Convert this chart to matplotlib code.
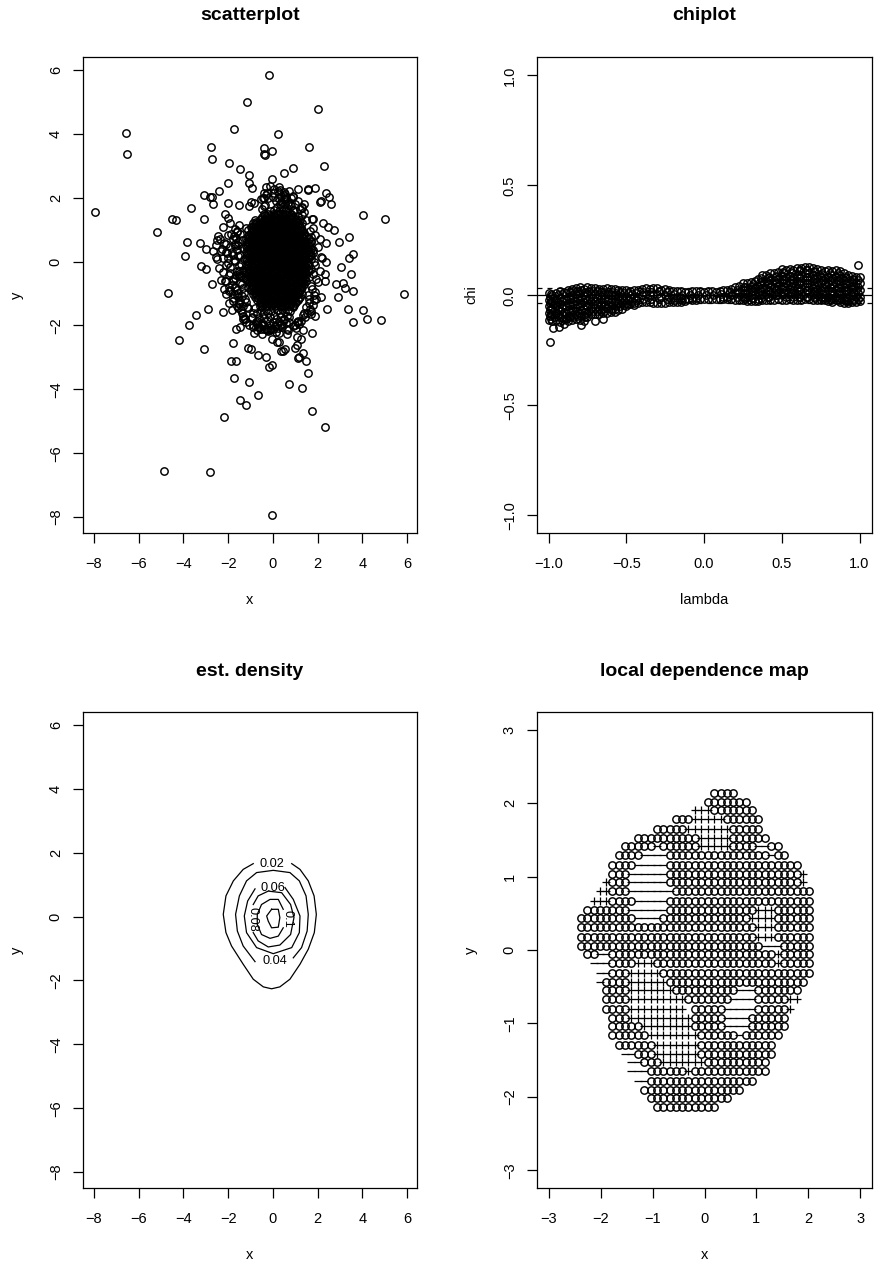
import matplotlib
matplotlib.use('Agg')
import matplotlib.pyplot as plt

plt.rcParams['font.family'] = ['Liberation Sans', 'DejaVu Sans']

# scatterplot: isolated points read one by one
out_x = [-0.17,-1.15,2.02,-6.59,-6.54,-1.75,0.21,-2.79,-2.71,-0.39,-0.05,-0.35,-0.39,1.61,2.29,-1.97,-1.45,0.91,0.50,-1.09,
         -1.06,-0.94,-0.02,-2.03,-2.43,-3.10,-2.80,-2.74,-2.67,-2.03,-1.51,-1.00,-3.64,-7.94,-4.49,-4.34,-3.09,-5.17,4.01,5.03,
         1.13,1.55,1.58,1.88,2.38,2.49,2.16,2.10,2.61,-0.33,-0.14,0.27,-0.40,-0.39,-0.36,0.03,0.27,0.56,0.91,1.38,
         1.32,1.80,1.73,2.26,2.47,2.72,2.96,3.38,2.35,3.57,3.38,3.04,3.48,2.35,2.16,2.31,-3.82,-3.27,-3.00,-3.95,
         -3.22,-2.97,-2.25,-2.45,-2.52,-2.55,-2.70,-2.55,-2.51,-2.13,-2.00,-4.67,5.88,-2.74,-2.30,-2.19,-2.91,-3.46,-3.74,-4.19,
         -3.09,-2.21,-1.95,-1.82,-1.64,-1.45,-1.78,-1.11,-0.96,-0.67,-0.32,-1.86,-1.67,-0.06,-0.17,-1.72,-1.07,0.71,1.29,-0.66,
         -1.46,-1.22,-2.18,1.73,2.32,-4.86,-2.80,-0.05,2.32,2.80,3.13,3.22,3.60,2.92,2.16,1.92,1.85,2.43,3.35,4.04,
         4.19,3.59,4.81,1.68,1.89,1.73,1.35,1.13,1.10,0.73,1.03,0.68,0.64,1.26,1.06,1.09,1.00,1.33,1.13,1.17,
         1.46,1.58,0.36,0.43,0.52,-0.06,0.16,0.27,0.28,-0.21,-0.49,-0.85,-1.07,-1.36,-1.55]
out_y = [5.86,5.01,4.79,4.02,3.36,4.15,3.99,3.58,3.20,3.55,3.46,3.35,3.36,3.58,3.01,3.10,2.90,2.94,2.77,2.70,
         2.47,2.30,2.59,2.46,2.20,2.10,2.01,2.03,1.81,1.85,1.77,1.86,1.68,1.54,1.33,1.29,1.34,0.94,1.46,1.35,
         2.28,2.25,2.27,2.31,2.14,2.03,1.91,1.87,1.81,2.33,2.38,2.33,2.14,1.98,1.77,2.14,2.14,2.11,2.03,1.82,
         1.67,1.33,1.32,1.20,1.07,0.98,0.62,0.76,0.59,0.23,0.11,-0.18,-0.39,-0.01,0.15,-0.39,0.61,0.58,0.40,0.19,
         -0.14,-0.23,1.07,0.80,0.67,0.51,0.32,0.15,0.07,1.49,1.37,-0.97,-1.00,-0.70,-0.56,-0.86,-1.47,-1.68,-1.98,-2.45,
         -2.74,-1.57,-1.31,-1.50,-2.11,-2.05,-2.55,-2.70,-2.75,-2.93,-2.99,-3.10,-3.11,-3.24,-3.29,-3.65,-3.76,-3.82,-3.96,-4.19,
         -4.34,-4.50,-4.87,-4.67,-5.18,-6.55,-6.59,-7.95,-0.62,-0.70,-0.66,-0.84,-0.93,-1.11,-1.10,-1.17,-1.05,-1.47,-1.47,-1.51,
         -1.80,-1.88,-1.82,-1.64,-1.71,-2.22,-2.15,-1.86,-1.88,-1.88,-2.09,-2.14,-2.28,-2.43,-2.37,-2.60,-2.70,-2.85,-3.01,-3.00,
         -3.10,-3.48,-2.80,-2.80,-2.75,-2.43,-2.51,-2.51,-2.22,-2.17,-2.27,-2.23,-1.99,-1.79,-1.46]

# ragged fringe round the solid centre
fringe_x = [-1.9,-1.7,-1.5,-2.0,-1.8,-1.6,-1.9,-1.7,-2.1,-1.8,-1.6,-2.0,-1.7,-1.5,-1.9,-1.6,-2.1,-1.8,-1.5,-1.9,
            -1.7,-1.4,-1.8,-1.6,-1.3,-1.5,-1.2,-1.4,-1.1,-1.3,-0.9,-1.2,-0.7,-0.9,-0.5,-0.7,-0.3,-0.6,-0.2,-0.4,
            1.8,1.9,2.1,1.7,2.0,1.8,2.2,1.7,1.9,2.1,1.8,2.0,1.7,1.9,1.6,1.8,1.5,1.7,1.4,1.6,
            1.3,1.5,1.2,1.4,1.0,1.3,0.8,1.1,0.7,0.9,0.9,0.6,0.5,0.7,0.2,0.4,-0.1,0.1,-0.3,-0.5,
            -1.62,-1.75,-1.55,-1.68,-1.85,-1.58,-1.72,-1.92,-1.52,-1.66,-1.80,-1.95,-1.60,-1.74,-1.56,-1.48,-1.62,-1.42,-1.35,-1.25,
            1.66,1.72,1.60,1.78,1.65,1.85,1.70,1.62,1.92,1.74,1.58,1.82,1.64,1.52,1.44,1.36,1.26,1.18,1.08,0.98,
            -1.05,-0.85,-0.55,-0.25,0.05,0.30,0.55,0.78,-0.92,-0.62,-0.38,-0.12,0.12,0.38,0.62,0.88,-0.72,-0.45,0.22,0.48,
            -2.35,-2.18,-2.28,-2.05,-2.22,-1.88,-2.10,-1.98,-2.40,-2.15,-1.82,-2.30,-2.08,-1.70,-2.25,-1.95,-2.12,-1.78,-2.02,-1.65,
            -1.45,-1.38,-1.55,-1.32,-1.48,-1.30,-1.42,-1.35,-1.50,-1.28,-1.46,-1.33,-1.58,-1.40,-1.25,-1.52,-1.36,-1.18,-1.44,-1.22]
fringe_y = [1.20,1.02,1.15,0.85,0.70,0.92,0.45,0.55,0.30,0.20,0.38,-0.05,0.02,-0.15,-0.35,-0.28,-0.60,-0.55,-0.45,-0.90,
            -0.78,-0.70,-1.15,-1.05,-0.98,-1.32,-1.25,-1.60,-1.45,-1.75,-1.62,-1.90,-1.85,-2.05,-2.00,-2.15,-2.10,-1.38,1.98,1.75,
            1.05,0.85,0.70,0.65,0.45,0.28,0.10,0.08,-0.10,-0.30,-0.40,-0.65,-0.75,-0.95,-1.18,-1.35,-1.42,-1.55,-1.60,-1.30,
            1.45,1.30,1.65,1.55,1.80,1.70,2.00,1.90,2.20,2.05,1.60,1.95,-1.80,-1.72,-1.95,-2.05,-2.12,-2.02,2.08,1.65,
            0.95,0.80,0.62,0.48,0.30,0.18,0.05,-0.18,-0.30,-0.42,-0.62,-0.80,-0.88,-1.00,-1.12,-1.22,-1.40,-1.52,-1.70,-1.80,
            0.95,0.78,0.58,0.38,0.22,-0.02,-0.22,-0.48,-0.55,-0.85,-1.05,-1.20,-1.48,-1.62,-1.72,-1.68,-1.85,-1.95,-1.90,-2.00,
            1.75,1.85,1.95,2.15,2.28,2.25,2.05,1.80,-1.75,-2.05,-2.10,-2.15,-2.20,-2.00,-2.10,-2.02,-1.95,2.00,2.22,2.18,
            0.72,0.58,0.40,0.28,0.12,0.88,-0.12,-0.42,-0.20,-0.62,-0.72,0.32,0.55,-0.50,-0.32,-0.92,-1.02,-1.22,0.10,0.75,
            0.88,0.68,0.52,0.42,0.22,0.08,-0.08,-0.25,-0.38,-0.52,-0.68,-0.82,-0.98,-1.08,-1.18,-1.28,-1.38,-1.42,-0.45,1.05]

# solid centre, one row per y
core_rows = [
    (1.5, [-0.4,-0.2,0.0,0.2,0.4,0.6,0.8]),
    (1.4, [-0.5,-0.3,-0.1,0.1,0.3,0.5,0.7,0.9,1.1]),
    (1.3, [-0.8,-0.6,-0.4,-0.2,0.0,0.2,0.4,0.6,0.8,1.0,1.2]),
    (1.2, [-0.9,-0.7,-0.5,-0.3,-0.1,0.1,0.3,0.5,0.7,0.9,1.1,1.3]),
    (1.1, [-1.0,-0.8,-0.6,-0.4,-0.2,0.0,0.2,0.4,0.6,0.8,1.0,1.2]),
    (1.0, [-1.1,-0.9,-0.7,-0.5,-0.3,-0.1,0.1,0.3,0.5,0.7,0.9,1.1,1.3]),
    (0.9, [-1.0,-0.8,-0.6,-0.4,-0.2,0.0,0.2,0.4,0.6,0.8,1.0,1.2,1.4]),
    (0.8, [-1.1,-0.9,-0.7,-0.5,-0.3,-0.1,0.1,0.3,0.5,0.7,0.9,1.1,1.3,1.5]),
    (0.7, [-1.2,-1.0,-0.8,-0.6,-0.4,-0.2,0.0,0.2,0.4,0.6,0.8,1.0,1.2,1.4,1.6]),
    (0.6, [-1.1,-0.9,-0.7,-0.5,-0.3,-0.1,0.1,0.3,0.5,0.7,0.9,1.1,1.3,1.5,1.7]),
    (0.5, [-1.2,-1.0,-0.8,-0.6,-0.4,-0.2,0.0,0.2,0.4,0.6,0.8,1.0,1.2,1.4,1.6]),
    (0.4, [-1.1,-0.9,-0.7,-0.5,-0.3,-0.1,0.1,0.3,0.5,0.7,0.9,1.1,1.3,1.5,1.7]),
    (0.3, [-1.2,-1.0,-0.8,-0.6,-0.4,-0.2,0.0,0.2,0.4,0.6,0.8,1.0,1.2,1.4,1.6]),
    (0.2, [-1.1,-0.9,-0.7,-0.5,-0.3,-0.1,0.1,0.3,0.5,0.7,0.9,1.1,1.3,1.5,1.7]),
    (0.1, [-1.2,-1.0,-0.8,-0.6,-0.4,-0.2,0.0,0.2,0.4,0.6,0.8,1.0,1.2,1.4,1.6]),
    (0.0, [-1.1,-0.9,-0.7,-0.5,-0.3,-0.1,0.1,0.3,0.5,0.7,0.9,1.1,1.3,1.5]),
    (-0.1, [-1.2,-1.0,-0.8,-0.6,-0.4,-0.2,0.0,0.2,0.4,0.6,0.8,1.0,1.2,1.4,1.6]),
    (-0.2, [-1.1,-0.9,-0.7,-0.5,-0.3,-0.1,0.1,0.3,0.5,0.7,0.9,1.1,1.3,1.5]),
    (-0.3, [-1.2,-1.0,-0.8,-0.6,-0.4,-0.2,0.0,0.2,0.4,0.6,0.8,1.0,1.2,1.4,1.6]),
    (-0.4, [-1.1,-0.9,-0.7,-0.5,-0.3,-0.1,0.1,0.3,0.5,0.7,0.9,1.1,1.3,1.5]),
    (-0.5, [-1.2,-1.0,-0.8,-0.6,-0.4,-0.2,0.0,0.2,0.4,0.6,0.8,1.0,1.2,1.4]),
    (-0.6, [-1.1,-0.9,-0.7,-0.5,-0.3,-0.1,0.1,0.3,0.5,0.7,0.9,1.1,1.3,1.5]),
    (-0.7, [-1.0,-0.8,-0.6,-0.4,-0.2,0.0,0.2,0.4,0.6,0.8,1.0,1.2,1.4]),
    (-0.8, [-1.1,-0.9,-0.7,-0.5,-0.3,-0.1,0.1,0.3,0.5,0.7,0.9,1.1,1.3]),
    (-0.9, [-1.0,-0.8,-0.6,-0.4,-0.2,0.0,0.2,0.4,0.6,0.8,1.0,1.2]),
    (-1.0, [-0.9,-0.7,-0.5,-0.3,-0.1,0.1,0.3,0.5,0.7,0.9,1.1,1.3]),
    (-1.1, [-0.8,-0.6,-0.4,-0.2,0.0,0.2,0.4,0.6,0.8,1.0,1.2]),
    (-1.2, [-0.7,-0.5,-0.3,-0.1,0.1,0.3,0.5,0.7,0.9,1.1]),
    (-1.3, [-0.6,-0.4,-0.2,0.0,0.2,0.4,0.6,0.8,1.0]),
    (-1.4, [-0.5,-0.3,-0.1,0.1,0.3,0.5,0.7,0.9]),
    # second pass between the rows above
    (1.45, [-0.35,-0.15,0.05,0.25,0.45,0.65,0.85]),
    (1.35, [-0.55,-0.35,-0.15,0.05,0.25,0.45,0.65,0.85,1.05]),
    (1.25, [-0.75,-0.55,-0.35,-0.15,0.05,0.25,0.45,0.65,0.85,1.05]),
    (1.15, [-0.85,-0.65,-0.45,-0.25,-0.05,0.15,0.35,0.55,0.75,0.95,1.15]),
    (1.05, [-0.95,-0.75,-0.55,-0.35,-0.15,0.05,0.25,0.45,0.65,0.85,1.05,1.25]),
    (0.95, [-0.95,-0.75,-0.55,-0.35,-0.15,0.05,0.25,0.45,0.65,0.85,1.05,1.25]),
    (0.85, [-1.05,-0.85,-0.65,-0.45,-0.25,-0.05,0.15,0.35,0.55,0.75,0.95,1.15,1.35]),
    (0.75, [-1.05,-0.85,-0.65,-0.45,-0.25,-0.05,0.15,0.35,0.55,0.75,0.95,1.15,1.35]),
    (0.65, [-1.15,-0.95,-0.75,-0.55,-0.35,-0.15,0.05,0.25,0.45,0.65,0.85,1.05,1.25,1.45]),
    (0.55, [-1.15,-0.95,-0.75,-0.55,-0.35,-0.15,0.05,0.25,0.45,0.65,0.85,1.05,1.25,1.45]),
    (0.45, [-1.15,-0.95,-0.75,-0.55,-0.35,-0.15,0.05,0.25,0.45,0.65,0.85,1.05,1.25,1.45,1.65]),
    (0.35, [-1.05,-0.85,-0.65,-0.45,-0.25,-0.05,0.15,0.35,0.55,0.75,0.95,1.15,1.35,1.55]),
    (0.25, [-1.15,-0.95,-0.75,-0.55,-0.35,-0.15,0.05,0.25,0.45,0.65,0.85,1.05,1.25,1.45,1.65]),
    (0.15, [-1.05,-0.85,-0.65,-0.45,-0.25,-0.05,0.15,0.35,0.55,0.75,0.95,1.15,1.35,1.55]),
    (0.05, [-1.15,-0.95,-0.75,-0.55,-0.35,-0.15,0.05,0.25,0.45,0.65,0.85,1.05,1.25,1.45]),
    (-0.05, [-1.05,-0.85,-0.65,-0.45,-0.25,-0.05,0.15,0.35,0.55,0.75,0.95,1.15,1.35,1.55]),
    (-0.15, [-1.15,-0.95,-0.75,-0.55,-0.35,-0.15,0.05,0.25,0.45,0.65,0.85,1.05,1.25,1.45]),
    (-0.25, [-1.05,-0.85,-0.65,-0.45,-0.25,-0.05,0.15,0.35,0.55,0.75,0.95,1.15,1.35,1.55]),
    (-0.35, [-1.15,-0.95,-0.75,-0.55,-0.35,-0.15,0.05,0.25,0.45,0.65,0.85,1.05,1.25,1.45]),
    (-0.45, [-1.05,-0.85,-0.65,-0.45,-0.25,-0.05,0.15,0.35,0.55,0.75,0.95,1.15,1.35]),
    (-0.55, [-1.15,-0.95,-0.75,-0.55,-0.35,-0.15,0.05,0.25,0.45,0.65,0.85,1.05,1.25,1.45]),
    (-0.65, [-1.05,-0.85,-0.65,-0.45,-0.25,-0.05,0.15,0.35,0.55,0.75,0.95,1.15,1.35]),
    (-0.75, [-0.95,-0.75,-0.55,-0.35,-0.15,0.05,0.25,0.45,0.65,0.85,1.05,1.25]),
    (-0.85, [-0.95,-0.75,-0.55,-0.35,-0.15,0.05,0.25,0.45,0.65,0.85,1.05,1.25]),
    (-0.95, [-0.85,-0.65,-0.45,-0.25,-0.05,0.15,0.35,0.55,0.75,0.95,1.15]),
    (-1.05, [-0.75,-0.55,-0.35,-0.15,0.05,0.25,0.45,0.65,0.85,1.05]),
    (-1.15, [-0.65,-0.45,-0.25,-0.05,0.15,0.35,0.55,0.75,0.95,1.15]),
    (-1.25, [-0.55,-0.35,-0.15,0.05,0.25,0.45,0.65,0.85,1.05]),
    (-1.35, [-0.45,-0.25,-0.05,0.15,0.35,0.55,0.75,0.95]),
]

# thinner part above and below the solid centre
tail_x = [0.05,0.28,0.52,0.72,0.18,0.42,0.62,0.92,-0.12,0.30,0.55,0.80,0.12,0.38,0.66,0.22,0.48,0.02,0.34,0.58,
          -0.82,-0.55,-0.30,-0.08,0.18,0.42,0.68,0.90,-0.72,-0.45,-0.20,0.05,0.30,0.55,0.78,-0.92,-0.62,-0.38,-0.12,0.12,
          0.38,0.62,-0.75,-0.50,-0.25,0.00,0.25,0.48,-0.88,-0.65,-0.40,-0.15,0.10,0.35,0.60,-0.55,-0.28,0.02,0.22]
tail_y = [1.62,1.58,1.60,1.55,1.72,1.70,1.68,1.62,1.58,1.82,1.80,1.74,1.90,1.88,1.85,1.98,1.95,2.02,2.05,1.98,
          -1.45,-1.52,-1.50,-1.55,-1.52,-1.48,-1.50,-1.42,-1.62,-1.65,-1.60,-1.68,-1.62,-1.58,-1.55,-1.72,-1.75,-1.78,-1.72,-1.80,
          -1.74,-1.70,-1.88,-1.92,-1.85,-1.90,-1.88,-1.82,-1.98,-2.02,-2.00,-1.98,-2.02,-1.95,-1.92,-2.12,-2.15,-2.10,-2.08]

# chiplot band, (lambda, chi values)
chi_cols = [
    (-1.000,[0.010,-0.020,-0.050,-0.080,-0.110]), (-0.975,[0.000,-0.030,-0.060,-0.090,-0.115]),
    (-0.950,[0.010,-0.020,-0.050,-0.080,-0.110]), (-0.925,[0.020,-0.010,-0.040,-0.070,-0.100,-0.120]),
    (-0.900,[0.015,-0.015,-0.045,-0.075,-0.105]), (-0.875,[0.025,-0.005,-0.035,-0.065,-0.095,-0.115]),
    (-0.850,[0.030,0.000,-0.030,-0.060,-0.090,-0.110]), (-0.825,[0.035,0.005,-0.025,-0.055,-0.085,-0.105]),
    (-0.800,[0.040,0.010,-0.020,-0.050,-0.080,-0.110]), (-0.775,[0.030,0.000,-0.030,-0.060,-0.090,-0.115]),
    (-0.750,[0.040,0.010,-0.020,-0.050,-0.080,-0.100]), (-0.725,[0.035,0.005,-0.025,-0.055,-0.085]),
    (-0.700,[0.035,0.005,-0.025,-0.055,-0.085]), (-0.675,[0.030,0.000,-0.030,-0.060,-0.085]),
    (-0.650,[0.030,0.000,-0.030,-0.060,-0.080]), (-0.625,[0.035,0.005,-0.025,-0.055,-0.080]),
    (-0.600,[0.030,0.000,-0.030,-0.060,-0.075]), (-0.575,[0.030,0.000,-0.030,-0.060,-0.075]),
    (-0.550,[0.025,-0.005,-0.035,-0.065]), (-0.525,[0.025,-0.005,-0.035,-0.060]),
    (-0.500,[0.025,-0.005,-0.035,-0.050]), (-0.475,[0.020,-0.010,-0.040]),
    (-0.450,[0.025,-0.005,-0.035,-0.045]), (-0.425,[0.025,-0.005,-0.035]),
    (-0.400,[0.030,0.000,-0.030]), (-0.375,[0.035,0.005,-0.030]),
    (-0.350,[0.030,0.000,-0.030]), (-0.325,[0.035,0.005,-0.035]),
    (-0.300,[0.035,0.005,-0.035]), (-0.275,[0.025,-0.005,-0.035]),
    (-0.250,[0.030,0.000,-0.035]), (-0.225,[0.025,-0.005,-0.030]),
    (-0.200,[0.020,-0.010,-0.030]), (-0.175,[0.020,-0.010,-0.030]),
    (-0.150,[0.020,-0.010,-0.030]), (-0.125,[0.015,-0.015,-0.025]),
    (-0.100,[0.015,-0.015]), (-0.075,[0.020,-0.010,-0.020]),
    (-0.050,[0.020,-0.010,-0.020]), (-0.025,[0.020,-0.015]),
    (0.000,[0.015,-0.015]), (0.025,[0.020,-0.015]),
    (0.050,[0.020,-0.015]), (0.075,[0.015,-0.015]),
    (0.100,[0.020,-0.015]), (0.125,[0.025,-0.005,-0.015]),
    (0.150,[0.025,-0.005,-0.015]), (0.175,[0.030,0.000,-0.015]),
    (0.200,[0.040,0.010,-0.020]), (0.225,[0.045,0.015,-0.020]),
    (0.250,[0.055,0.025,-0.005,-0.020]), (0.275,[0.055,0.025,-0.005,-0.025]),
    (0.300,[0.060,0.030,0.000,-0.025]), (0.325,[0.065,0.035,0.005,-0.025]),
    (0.350,[0.075,0.045,0.015,-0.015,-0.025]), (0.375,[0.095,0.065,0.035,0.005,-0.020]),
    (0.400,[0.095,0.065,0.035,0.005,-0.020]), (0.425,[0.100,0.070,0.040,0.010,-0.020]),
    (0.450,[0.100,0.070,0.040,0.010,-0.020]), (0.475,[0.105,0.075,0.045,0.015,-0.015]),
    (0.500,[0.120,0.090,0.060,0.030,0.000,-0.020]), (0.525,[0.115,0.085,0.055,0.025,-0.005,-0.020]),
    (0.550,[0.120,0.090,0.060,0.030,0.000,-0.015]), (0.575,[0.115,0.085,0.055,0.025,-0.005,-0.020]),
    (0.600,[0.125,0.095,0.065,0.035,0.005,-0.020]), (0.625,[0.125,0.095,0.065,0.035,0.005,-0.020]),
    (0.650,[0.130,0.100,0.070,0.040,0.010,-0.015]), (0.675,[0.130,0.100,0.070,0.040,0.010,-0.015]),
    (0.700,[0.125,0.095,0.065,0.035,0.005,-0.020]), (0.725,[0.120,0.090,0.060,0.030,0.000,-0.020]),
    (0.750,[0.115,0.085,0.055,0.025,-0.005,-0.020]), (0.775,[0.110,0.080,0.050,0.020,-0.010,-0.020]),
    (0.800,[0.115,0.085,0.055,0.025,-0.005,-0.025]), (0.825,[0.110,0.080,0.050,0.020,-0.010,-0.030]),
    (0.850,[0.115,0.085,0.055,0.025,-0.005,-0.020]), (0.875,[0.110,0.080,0.050,0.020,-0.010,-0.030]),
    (0.900,[0.100,0.070,0.040,0.010,-0.020,-0.035]), (0.925,[0.095,0.065,0.035,0.005,-0.025,-0.035]),
    (0.950,[0.090,0.060,0.030,0.000,-0.030]), (0.975,[0.085,0.055,0.025,-0.005,-0.030]),
    (1.000,[0.085,0.055,0.025,-0.005,-0.025]),
    # second pass between the columns above
    (-0.99,[-0.005,-0.035,-0.065,-0.095]), (-0.94,[0.000,-0.030,-0.060,-0.090]),
    (-0.89,[0.010,-0.020,-0.050,-0.080,-0.105]), (-0.84,[0.020,-0.010,-0.040,-0.070,-0.100]),
    (-0.79,[0.025,-0.005,-0.035,-0.065,-0.095]), (-0.74,[0.020,-0.010,-0.040,-0.070]),
    (-0.69,[0.020,-0.010,-0.040,-0.070]), (-0.64,[0.015,-0.015,-0.045,-0.070]),
    (-0.59,[0.015,-0.015,-0.045,-0.065]), (-0.54,[0.010,-0.020,-0.050]),
    (-0.49,[0.010,-0.020,-0.040]), (-0.44,[0.010,-0.020]),
    (-0.39,[0.015,-0.015]), (-0.34,[0.015,-0.015]),
    (-0.29,[0.020,-0.010]), (-0.24,[0.015,-0.015]),
    (-0.19,[0.005,-0.020]), (-0.14,[0.000,-0.020]),
    (-0.09,[0.000]), (-0.04,[0.000]),
    (0.01,[0.000]), (0.06,[0.000]),
    (0.11,[0.005]), (0.16,[0.010]),
    (0.21,[0.025,-0.005]), (0.26,[0.040,0.010,-0.010]),
    (0.31,[0.045,0.015,-0.010]), (0.36,[0.060,0.030,0.000]),
    (0.41,[0.080,0.050,0.020,-0.005]), (0.46,[0.085,0.055,0.025,0.000]),
    (0.51,[0.105,0.075,0.045,0.015]), (0.56,[0.105,0.075,0.045,0.015]),
    (0.61,[0.110,0.080,0.050,0.020,-0.005]), (0.66,[0.115,0.085,0.055,0.025,-0.005]),
    (0.71,[0.110,0.080,0.050,0.020,-0.005]), (0.76,[0.100,0.070,0.040,0.010]),
    (0.81,[0.100,0.070,0.040,0.010,-0.015]), (0.86,[0.100,0.070,0.040,0.010,-0.015]),
    (0.91,[0.085,0.055,0.025,-0.005,-0.020]), (0.96,[0.075,0.045,0.015,-0.015]),
    (0.99,[0.070,0.040,0.010,-0.015]),
    # third pass, wide ends of the band
    (-0.985,[0.005,-0.025,-0.055,-0.085,-0.105]), (-0.965,[-0.010,-0.040,-0.070,-0.100]),
    (-0.915,[0.005,-0.025,-0.055,-0.085,-0.110]), (-0.865,[0.015,-0.015,-0.045,-0.075,-0.100]),
    (-0.815,[0.020,-0.010,-0.040,-0.070,-0.095]), (-0.765,[0.015,-0.015,-0.045,-0.075,-0.100]),
    (-0.715,[0.020,-0.010,-0.040,-0.070]), (-0.665,[0.015,-0.015,-0.045,-0.070]),
    (-0.615,[0.015,-0.015,-0.045]), (-0.565,[0.010,-0.020,-0.050]),
    (-0.515,[0.010,-0.020,-0.045]), (-0.465,[0.005,-0.025]),
    (0.265,[0.040,0.010,-0.015]), (0.315,[0.050,0.020,-0.010]),
    (0.365,[0.080,0.050,0.020,-0.010]), (0.415,[0.085,0.055,0.025,-0.005]),
    (0.465,[0.090,0.060,0.030,0.000]), (0.515,[0.100,0.070,0.040,0.010]),
    (0.565,[0.100,0.070,0.040,0.010]), (0.615,[0.115,0.085,0.055,0.025,-0.005]),
    (0.665,[0.115,0.085,0.055,0.025,-0.005]), (0.715,[0.105,0.075,0.045,0.015,-0.010]),
    (0.765,[0.095,0.065,0.035,0.005,-0.015]), (0.815,[0.095,0.065,0.035,0.005,-0.020]),
    (0.865,[0.095,0.065,0.035,0.005,-0.020]), (0.915,[0.080,0.050,0.020,-0.010,-0.025]),
    (0.965,[0.070,0.040,0.010,-0.020]),
]
chi_out_x = [-0.99,-0.97,-0.935,-0.90,-0.79,-0.70,-0.65,0.99]
chi_out_y = [-0.21,-0.15,-0.145,-0.13,-0.135,-0.115,-0.105,0.14]
chi_bounds = [-0.036, 0.036]

# density contours, read as polylines (gaps where the labels sit)
contour_lines = [
    ([0.84,1.21,1.58,1.84,1.94,1.85,1.58,1.21,0.76,0.31,-0.06,-0.43,-0.88,-1.33,-1.85,-2.10,-2.22,-2.10,-1.77,-1.33,-0.88],
     [1.66,1.48,1.12,0.65,0.07,-0.50,-1.02,-1.49,-1.96,-2.20,-2.26,-2.20,-1.96,-1.49,-0.92,-0.50,0.07,0.65,1.12,1.48,1.66]),
    ([0.91,1.28,1.53,1.58,1.48,1.18,0.76,0.015,-0.73,-1.18,-1.50,-1.67,-1.59,-1.33,-0.80],
     [-1.29,-0.97,-0.45,0.07,0.65,1.12,1.38,1.45,1.38,1.12,0.65,0.07,-0.45,-0.92,-1.41]),
    ([0.54,0.91,1.21,1.18,0.84,0.015,-0.73,-1.18,-1.28,-1.13,-0.80],
     [0.91,0.54,0.02,-0.50,-0.97,-1.16,-0.97,-0.50,0.02,0.49,0.87]),
    ([-0.88,-0.66,-0.21,0.39,0.79,0.94,0.79,0.31,-0.21,-0.66,-0.88],
     [0.38,0.65,0.80,0.75,0.38,-0.03,-0.56,-0.89,-0.95,-0.76,-0.50]),
    ([0.46,0.24,-0.13,-0.51,-0.70,-0.70,-0.51,-0.13,0.24,0.46],
     [0.23,0.54,0.54,0.38,0.07,-0.24,-0.56,-0.68,-0.61,-0.35]),
    ([-0.06,0.24,0.31,0.24,-0.06,-0.21,-0.28,-0.06],
     [0.23,0.23,-0.03,-0.33,-0.35,-0.14,0.02,0.23]),
]
contour_labels = ['0.02', '0.06', '0.04', '0.08', '0.1']
label_x = [-0.03, -0.02, 0.09, -0.90, 0.64]
label_y = [1.66, 0.91, -1.39, -0.09, -0.07]
label_rot = [0, 0, 0, -90, -90]

# local dependence map: grid of the map and sign runs per row
ldm_grid = [-3.00,-2.88,-2.76,-2.63,-2.51,-2.39,-2.27,-2.14,-2.02,-1.90,-1.78,-1.65,-1.53,-1.41,-1.29,-1.16,-1.04,-0.92,-0.80,-0.67,
            -0.55,-0.43,-0.31,-0.18,-0.06,0.06,0.18,0.31,0.43,0.55,0.67,0.80,0.92,1.04,1.16,1.29,1.41,1.53,1.65,1.78,
            1.90,2.02,2.14,2.27,2.39,2.51,2.63,2.76,2.88,3.00]
ldm_rows = {
    42: [('o',26,29)],
    41: [('o',25,31)],
    40: [('+',23,25),('o',26,32)],
    39: [('o',20,22),('+',23,27),('o',28,33)],
    38: [('o',17,21),('+',22,28),('o',29,33)],
    37: [('o',14,23),('+',24,28),('o',29,34)],
    36: [('o',12,16),('-',17,17),('o',18,23),('+',24,28),('o',29,32),('-',33,34),('o',35,36)],
    35: [('o',11,14),('-',15,18),('o',19,34),('-',35,35),('o',36,37)],
    34: [('o',10,13),('-',14,18),('o',19,39)],
    33: [('o',10,12),('-',13,18),('o',19,39),('+',40,40)],
    32: [('+',9,9),('o',10,12),('-',13,18),('o',19,39),('+',40,40)],
    31: [('+',8,9),('o',10,12),('-',13,19),('o',20,41)],
    30: [('+',7,9),('o',10,13),('-',14,18),('o',19,41)],
    29: [('o',6,12),('-',13,18),('o',19,32),('+',33,35),('o',36,41)],
    28: [('o',5,13),('-',14,17),('o',18,31),('+',32,35),('o',36,41)],
    27: [('o',5,32),('+',33,35),('o',36,41)],
    26: [('o',5,32),('+',33,35),('o',36,41)],
    25: [('o',5,33),('-',34,36),('o',37,41)],
    24: [('o',6,7),('-',8,9),('o',10,35),('+',36,36),('o',37,41)],
    23: [('-',7,9),('o',10,13),('+',14,16),('o',17,35),('+',36,36),('o',37,41)],
    22: [('-',8,9),('o',10,12),('+',13,17),('o',18,41)],
    21: [('-',8,8),('o',9,12),('+',13,18),('o',19,40)],
    20: [('o',9,12),('+',13,19),('o',20,29),('-',30,32),('o',33,39)],
    19: [('o',9,12),('+',13,21),('o',22,28),('-',29,32),('o',33,37),('+',38,39)],
    18: [('o',9,12),('+',13,21),('o',23,27),('-',28,32),('o',33,37),('+',38,38)],
    17: [('o',10,12),('+',13,22),('o',23,27),('-',28,31),('o',32,37)],
    16: [('o',10,14),('+',15,22),('o',23,27),('-',28,31),('o',32,37)],
    15: [('o',10,15),('+',16,23),('o',24,29),('-',30,30),('o',31,36)],
    14: [('o',11,16),('+',17,23),('o',24,35)],
    13: [('-',12,13),('o',14,16),('+',17,23),('o',24,35)],
    12: [('-',13,14),('o',15,17),('+',18,24),('o',25,34)],
    11: [('-',13,15),('o',16,21),('+',22,22),('o',23,34)],
    10: [('-',14,15),('o',16,32)],
    9: [('o',15,30)],
    8: [('o',16,28)],
    7: [('o',17,26)],
}

scatter_ticks_x = [-8, -6, -4, -2, 0, 2, 4, 6]
scatter_ticks_y = [-8, -6, -4, -2, 0, 2, 4, 6]
chi_ticks = [-1.0, -0.5, 0.0, 0.5, 1.0]
ldm_ticks = [-3, -2, -1, 0, 1, 2, 3]

W, H = 875, 1268
fig = plt.figure(figsize=(W/100, H/100), dpi=100)


def make_axes(left, right, top, bottom, xlim, ylim, xt, yt, fmt, title, xlabel, ylabel):
    ax = fig.add_axes([left/W, 1-bottom/H, (right-left)/W, (bottom-top)/H])
    ax.set_xlim(xlim)
    ax.set_ylim(ylim)
    ax.set_xticks(xt)
    ax.set_yticks(yt)
    ax.set_xticklabels([fmt % v if v >= 0 else '\u2212' + fmt % -v for v in xt])
    ax.set_yticklabels([fmt % v if v >= 0 else '\u2212' + fmt % -v for v in yt], rotation=90, va='center')
    ax.tick_params(length=7, width=0.9, labelsize=10.5)
    ax.tick_params(axis='x', pad=10.5)
    ax.tick_params(axis='y', pad=7.5)
    for s in ax.spines.values():
        s.set_linewidth(0.9)
    fig.text((left+right)/2/W, 1-(top-41)/H, title, ha='center', va='center', fontsize=14, fontweight='bold')
    fig.text((left+right)/2/W, 1-(bottom+67)/H, xlabel, ha='center', va='center', fontsize=10.5)
    fig.text((left-66)/W, 1-(top+bottom)/2/H, ylabel, ha='center', va='center', rotation=90, fontsize=10.5)
    return ax


circ = dict(ls='none', marker='o', ms=5.3, mfc='none', mec='black', mew=1.05)

# top left
ax1 = make_axes(83, 417, 57, 533, (-8.49, 6.44), (-8.50, 6.41), scatter_ticks_x, scatter_ticks_y, '%d',
                'scatterplot', 'x', 'y')
ax1.plot(out_x, out_y, **circ)
ax1.plot(fringe_x, fringe_y, **circ)
ax1.plot(tail_x, tail_y, **circ)
for yv, xs in core_rows:
    ax1.plot(xs, [yv]*len(xs), **circ)

# top right
ax2 = make_axes(537, 872, 57, 533, (-1.074, 1.080), (-1.080, 1.084), chi_ticks, chi_ticks, '%.1f',
                'chiplot', 'lambda', 'chi')
for lam, ys in chi_cols:
    ax2.plot([lam]*len(ys), ys, **circ)
ax2.plot(chi_out_x, chi_out_y, **circ)
ax2.axhline(0, color='black', lw=0.9)
for b in chi_bounds:
    ax2.axhline(b, color='black', lw=0.9, dashes=(4, 4))

# bottom left
ax3 = make_axes(83, 417, 712, 1188, (-8.49, 6.44), (-8.50, 6.41), scatter_ticks_x, scatter_ticks_y, '%d',
                'est. density', 'x', 'y')
for cx, cy in contour_lines:
    ax3.plot(cx, cy, color='black', lw=0.9)
for txt, tx, ty, rot in zip(contour_labels, label_x, label_y, label_rot):
    ax3.text(tx, ty, txt, ha='center', va='center', rotation=rot, fontsize=9.2)

# bottom right
ax4 = make_axes(537, 872, 712, 1188, (-3.23, 3.23), (-3.24, 3.24), ldm_ticks, ldm_ticks, '%d',
                'local dependence map', 'x', 'y')
sym_style = {'o': circ,
             '+': dict(ls='none', marker='+', ms=6, mec='black', mew=0.9),
             '-': dict(ls='none', marker='_', ms=6, mec='black', mew=0.9)}
for k, runs in ldm_rows.items():
    for sym, j0, j1 in runs:
        xs = ldm_grid[j0:j1+1]
        ax4.plot(xs, [ldm_grid[k]]*len(xs), **sym_style[sym])

fig.savefig('out.png', dpi=100)
